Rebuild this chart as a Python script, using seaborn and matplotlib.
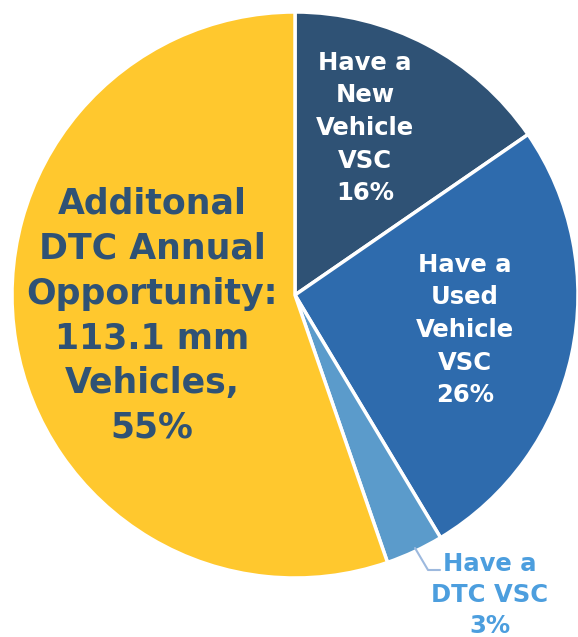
import matplotlib
matplotlib.use("Agg")
import matplotlib.pyplot as plt
import seaborn as sns

sns.set_theme(style="white")
plt.rcParams['font.family'] = ['DejaVu Sans']

categories = ["Have a New Vehicle VSC", "Have a Used Vehicle VSC", "Have a DTC VSC",
              "Additonal DTC Annual Opportunity"]
values = [15.4, 26.0, 3.3, 55.3]
pct_labels = ["16%", "26%", "3%", "55%"]
colors = ["#2F5275", "#2E6BAD", "#5B9BCB", "#FFC82E"]

W, H = 578, 637
fig = plt.figure(figsize=(W / 100, H / 100), dpi=100)
ax = fig.add_axes([0, 0, 1, 1])

cx, cy, r = 295, H - 295, 283
ax.pie(values, colors=colors, startangle=90, counterclock=False,
       center=(cx, cy), radius=r, frame=True,
       wedgeprops=dict(edgecolor="white", linewidth=2.5))
ax.set_xlim(0, W)
ax.set_ylim(0, H)
ax.set_aspect("equal")
ax.axis("off")

def py(y):
    return H - y

ax.text(365, py(128), "Have a\nNew\nVehicle\nVSC\n" + pct_labels[0], color="white",
        fontsize=17.5, fontweight="bold", ha="center", va="center", linespacing=1.45)
ax.text(465, py(330), "Have a\nUsed\nVehicle\nVSC\n" + pct_labels[1], color="white",
        fontsize=17.5, fontweight="bold", ha="center", va="center", linespacing=1.45)
ax.text(490, py(595), "Have a\nDTC VSC\n" + pct_labels[2], color="#4C9EDE",
        fontsize=17.5, fontweight="bold", ha="center", va="center", linespacing=1.37)
ax.plot([415, 428, 440], [py(548), py(570), py(570)], color="#9DB9DE", lw=1.5)
ax.text(152, py(316), "Additonal\nDTC Annual\nOpportunity:\n113.1 mm\nVehicles,\n" + pct_labels[3],
        color="#2F5275", fontsize=25, fontweight="bold", ha="center", va="center",
        linespacing=1.40)

fig.savefig("out.png", dpi=100)
